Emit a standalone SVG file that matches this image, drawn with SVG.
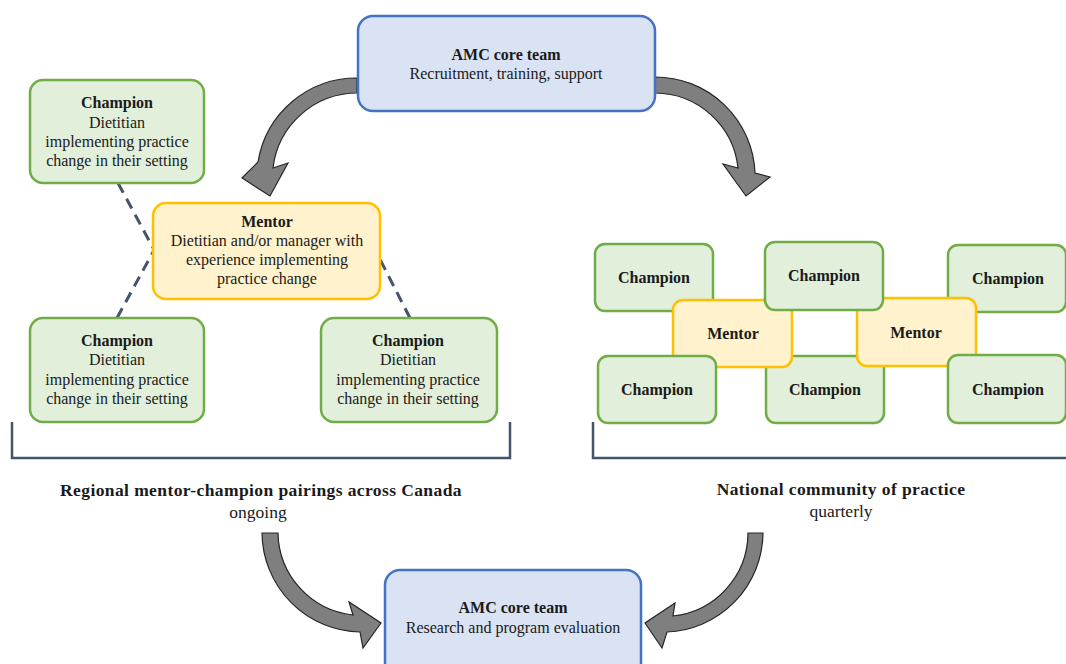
<svg xmlns="http://www.w3.org/2000/svg" width="1066" height="664" viewBox="0 0 1066 664">
<style>
text{font-family:"Liberation Serif","Times New Roman",serif;font-size:16px;fill:#1a1a1a;text-anchor:middle}
.b{font-weight:bold}
.lbl{font-size:17.5px}
.lbl.b{letter-spacing:0.4px}
.amc{fill:#DAE3F3;stroke:#4472C4;stroke-width:2.5}
.ch{fill:#E2EFDA;stroke:#70AD47;stroke-width:2.5}
.me{fill:#FFF2CC;stroke:#FFC000;stroke-width:2.5}
.arr{fill:#7F7F7F;stroke:#262626;stroke-width:1.2;stroke-linejoin:miter}
.dash{stroke:#44546A;stroke-width:3;stroke-dasharray:11 7;fill:none}
.br{stroke:#44546A;stroke-width:2.5;fill:none}
</style>
<g id="connectors">
<path class="arr" d="M357,78 A100,100 0 0 0 258,162 L242,178 L270,196 L288,163 L273,168 A85,85 0 0 1 357,93 Z"/>
<path class="arr" d="M655,77 A100,100 0 0 1 755,173 L770,177 L746,196 L723,164 L738,168 A84,84 0 0 0 655,93 Z"/>
<path class="arr" d="M262,533 A100,100 0 0 0 360,632 L363,648 L381,623 L349,602 L353,615 A84,84 0 0 1 278,533 Z"/>
<path class="arr" d="M763,533 A100,100 0 0 1 667,632 L662,648 L645,623 L675,603 L673,616 A84,84 0 0 0 748,533 Z"/>
<line class="dash" x1="118" y1="183" x2="165" y2="270"/>
<line class="dash" x1="117" y1="318" x2="165" y2="230"/>
<line class="dash" x1="410" y1="318" x2="365" y2="230"/>
<path class="br" d="M12,422 V458 H510 V422"/>
<path class="br" d="M593,422 V458 H1070"/>
</g>
<g id="amc-top">
<rect class="amc" x="358" y="16" width="297" height="95" rx="15"/>
<text class="b" x="506" y="60">AMC core team</text>
<text x="506" y="79">Recruitment, training, support</text>
</g>
<g id="champion-tl">
<rect class="ch" x="30" y="80" width="174" height="103" rx="13"/>
<text class="b" x="117" y="108">Champion</text>
<text x="117" y="128">Dietitian</text>
<text x="117" y="147">implementing practice</text>
<text x="117" y="166">change in their setting</text>
</g>
<g id="mentor-left">
<rect class="me" x="153" y="203" width="227" height="96" rx="13"/>
<text class="b" x="267" y="227">Mentor</text>
<text x="267" y="246">Dietitian and/or manager with</text>
<text x="267" y="265">experience implementing</text>
<text x="267" y="284">practice change</text>
</g>
<g id="champion-bl">
<rect class="ch" x="30" y="318" width="174" height="104" rx="13"/>
<text class="b" x="117" y="346">Champion</text>
<text x="117" y="365">Dietitian</text>
<text x="117" y="385">implementing practice</text>
<text x="117" y="404">change in their setting</text>
</g>
<g id="champion-br">
<rect class="ch" x="321" y="318" width="176" height="104" rx="13"/>
<text class="b" x="408" y="346">Champion</text>
<text x="408" y="365">Dietitian</text>
<text x="408" y="385">implementing practice</text>
<text x="408" y="404">change in their setting</text>
</g>
<g id="label-left">
<text class="b lbl" x="261" y="496">Regional mentor-champion pairings across Canada</text>
<text class="lbl" x="258" y="518">ongoing</text>
</g>
<g id="label-right">
<text class="b lbl" x="841" y="495">National community of practice</text>
<text class="lbl" x="841" y="517">quarterly</text>
</g>
<g id="n-c1"><rect class="ch" x="595" y="244" width="118" height="67" rx="10"/><text class="b" x="654" y="283">Champion</text></g>
<g id="n-c3"><rect class="ch" x="948" y="245" width="118" height="67" rx="10"/><text class="b" x="1008" y="284">Champion</text></g>
<g id="n-c5"><rect class="ch" x="766" y="356" width="118" height="67" rx="10"/><text class="b" x="825" y="395">Champion</text></g>
<g id="n-m1"><rect class="me" x="673" y="300" width="119" height="67" rx="10"/><text class="b" x="733" y="339">Mentor</text></g>
<g id="n-m2"><rect class="me" x="857" y="298" width="119" height="68" rx="10"/><text class="b" x="916" y="338">Mentor</text></g>
<g id="n-c2"><rect class="ch" x="765" y="242" width="118" height="68" rx="10"/><text class="b" x="824" y="281">Champion</text></g>
<g id="n-c4"><rect class="ch" x="598" y="356" width="118" height="67" rx="10"/><text class="b" x="657" y="395">Champion</text></g>
<g id="n-c6"><rect class="ch" x="948" y="355" width="118" height="68" rx="10"/><text class="b" x="1008" y="395">Champion</text></g>
<g id="amc-bottom">
<rect class="amc" x="385" y="570" width="256" height="110" rx="15"/>
<text class="b" x="513" y="613">AMC core team</text>
<text x="513" y="633">Research and program evaluation</text>
</g>
</svg>
